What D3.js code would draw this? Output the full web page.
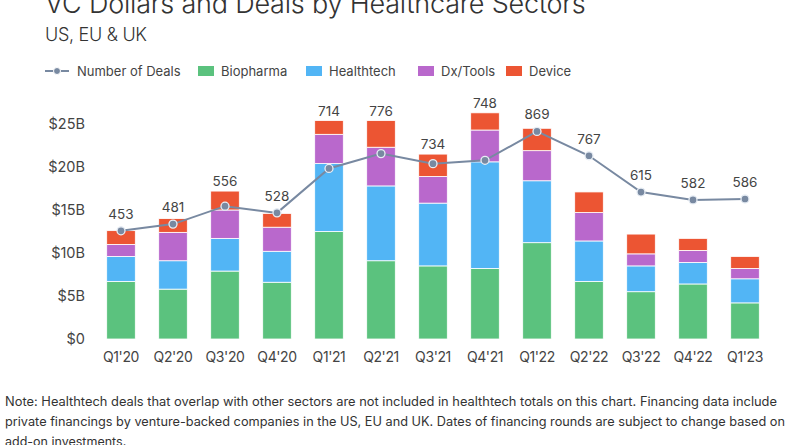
<!DOCTYPE html>
<html>
<head>
<meta charset="utf-8">
<script src="https://cdn.jsdelivr.net/npm/d3@7"></script>
<style>
  html, body { margin: 0; padding: 0; background: #fff; }
  svg { display: block; font-family: Inter, "Noto Sans", sans-serif; }
</style>
</head>
<body>
<svg id="chart" width="800" height="445"></svg>
<script>
const quarters = ["Q1'20","Q2'20","Q3'20","Q4'20","Q1'21","Q2'21","Q3'21","Q4'21","Q1'22","Q2'22","Q3'22","Q4'22","Q1'23"];
const biopharma  = [6.7, 5.8, 7.9, 6.6, 12.5, 9.1, 8.5, 8.2, 11.2, 6.7, 5.5, 6.4, 4.2];
const healthtech = [2.9, 3.3, 3.8, 3.6, 7.9, 8.7, 7.3, 12.4, 7.2, 4.7, 3.0, 2.5, 2.8];
const dxTools    = [1.4, 3.3, 3.3, 2.8, 3.4, 4.5, 3.1, 3.7, 3.5, 3.3, 1.4, 1.4, 1.2];
const device     = [1.6, 1.6, 2.2, 1.6, 1.6, 3.1, 2.6, 2.0, 2.6, 2.4, 2.3, 1.4, 1.4];
const deals      = [453, 481, 556, 528, 714, 776, 734, 748, 869, 767, 615, 582, 586];
const yTicks = [0, 5, 10, 15, 20, 25];
const seriesNames = ["Biopharma", "Healthtech", "Dx/Tools", "Device"];
const seriesColors = ["#5bc27e", "#52b5f5", "#b968cc", "#ec5533"];
const lineColor = "#7889a1";

const svg = d3.select("#chart");

// Title / subtitle
svg.append("text").attr("x", 45).attr("y", 13)
  .attr("font-size", 27).attr("font-weight", 300).attr("fill", "#333").attr("letter-spacing", -0.2)
  .text("VC Dollars and Deals by Healthcare Sectors");
svg.append("text").attr("x", 45).attr("y", 41)
  .attr("font-size", 18).attr("font-weight", 300).attr("fill", "#333").attr("letter-spacing", -0.3)
  .text("US, EU & UK");

// Legend
const lg = svg.append("g").attr("transform", "translate(0,71)");
lg.append("line").attr("x1", 45).attr("x2", 69).attr("y1", 0).attr("y2", 0)
  .attr("stroke", lineColor).attr("stroke-width", 2);
lg.append("circle").attr("cx", 57).attr("cy", 0).attr("r", 3.5)
  .attr("fill", lineColor).attr("stroke", "#fff").attr("stroke-width", 1);
lg.append("text").attr("x", 77).attr("y", 4.5).attr("font-size", 13).attr("fill", "#444")
  .text("Number of Deals");
const legendX = [198, 306, 418, 506];
seriesNames.forEach((n, i) => {
  lg.append("rect").attr("x", legendX[i]).attr("y", -5).attr("width", 16).attr("height", 10)
    .attr("fill", seriesColors[i]);
  lg.append("text").attr("x", legendX[i] + 23).attr("y", 4.5).attr("font-size", 13).attr("fill", "#444")
    .text(n);
});

// Scales
const x = d3.scaleBand().domain(quarters).range([95, 771]).paddingInner(0.45).paddingOuter(0.225);
const y = d3.scaleLinear().domain([0, 25]).range([339, 124]);
const y2 = d3.scaleLinear().domain([0, 900]).range([339, 124]);

// Y axis
const yAxis = d3.axisLeft(y).tickValues(yTicks).tickSize(0).tickPadding(0)
  .tickFormat(d => "$" + d + (d === 0 ? "" : "B"));
const yg = svg.append("g").attr("transform", "translate(85,0)").call(yAxis);
yg.select(".domain").remove();
yg.selectAll("text").attr("font-size", 14.5).attr("fill", "#444").attr("font-family", "Inter, sans-serif");

// X axis
const xAxis = d3.axisBottom(x).tickSize(0).tickPadding(0);
const xg = svg.append("g").attr("transform", "translate(0,352)").call(xAxis);
xg.select(".domain").remove();
xg.selectAll("text").attr("font-size", 14).attr("fill", "#444").attr("font-family", "Inter, sans-serif")
  .attr("letter-spacing", -0.4);

// Stacked bars
const rows = quarters.map((q, i) => ({
  q, Biopharma: biopharma[i], Healthtech: healthtech[i], "Dx/Tools": dxTools[i], Device: device[i]
}));
const stack = d3.stack().keys(seriesNames)(rows);
svg.append("g").selectAll("g").data(stack).join("g")
  .attr("fill", (d, i) => seriesColors[i])
  .selectAll("rect").data(d => d).join("rect")
  .attr("x", d => x(d.data.q))
  .attr("width", x.bandwidth())
  .attr("y", d => y(d[1]))
  .attr("height", d => y(d[0]) - y(d[1]))
  .attr("stroke", "#fff").attr("stroke-width", 0.8);

// Deals line
const pts = quarters.map((q, i) => ({ q, v: deals[i], top: d3.sum(seriesNames, k => rows[i][k]) }));
svg.append("path").datum(pts)
  .attr("fill", "none").attr("stroke", lineColor).attr("stroke-width", 2)
  .attr("d", d3.line().x(d => x(d.q) + x.bandwidth() / 2).y(d => y2(d.v)));
svg.append("g").selectAll("circle").data(pts).join("circle")
  .attr("cx", d => x(d.q) + x.bandwidth() / 2).attr("cy", d => y2(d.v)).attr("r", 4)
  .attr("fill", lineColor).attr("stroke", "#e8eef5").attr("stroke-width", 1.3);

// Deal labels
svg.append("g").selectAll("text").data(pts).join("text")
  .attr("x", d => x(d.q) + x.bandwidth() / 2)
  .attr("y", d => Math.min(y(d.top) - 5, y2(d.v) - 12))
  .attr("text-anchor", "middle").attr("font-size", 13.5).attr("fill", "#444")
  .text(d => d.v);

// Footnote
const notes = [
  "Note: Healthtech deals that overlap with other sectors are not included in healthtech totals on this chart. Financing data include",
  "private financings by venture-backed companies in the US, EU and UK. Dates of financing rounds are subject to change based on",
  "add-on investments."
];
const noteLen = [772, 780, null];
notes.forEach((t, i) => {
  const el = svg.append("text").attr("x", 5).attr("y", 406 + i * 20)
    .attr("font-size", 12.5).attr("fill", "#333").text(t);
  if (noteLen[i]) el.attr("textLength", noteLen[i]).attr("lengthAdjust", "spacingAndGlyphs");
});
</script>
</body>
</html>
